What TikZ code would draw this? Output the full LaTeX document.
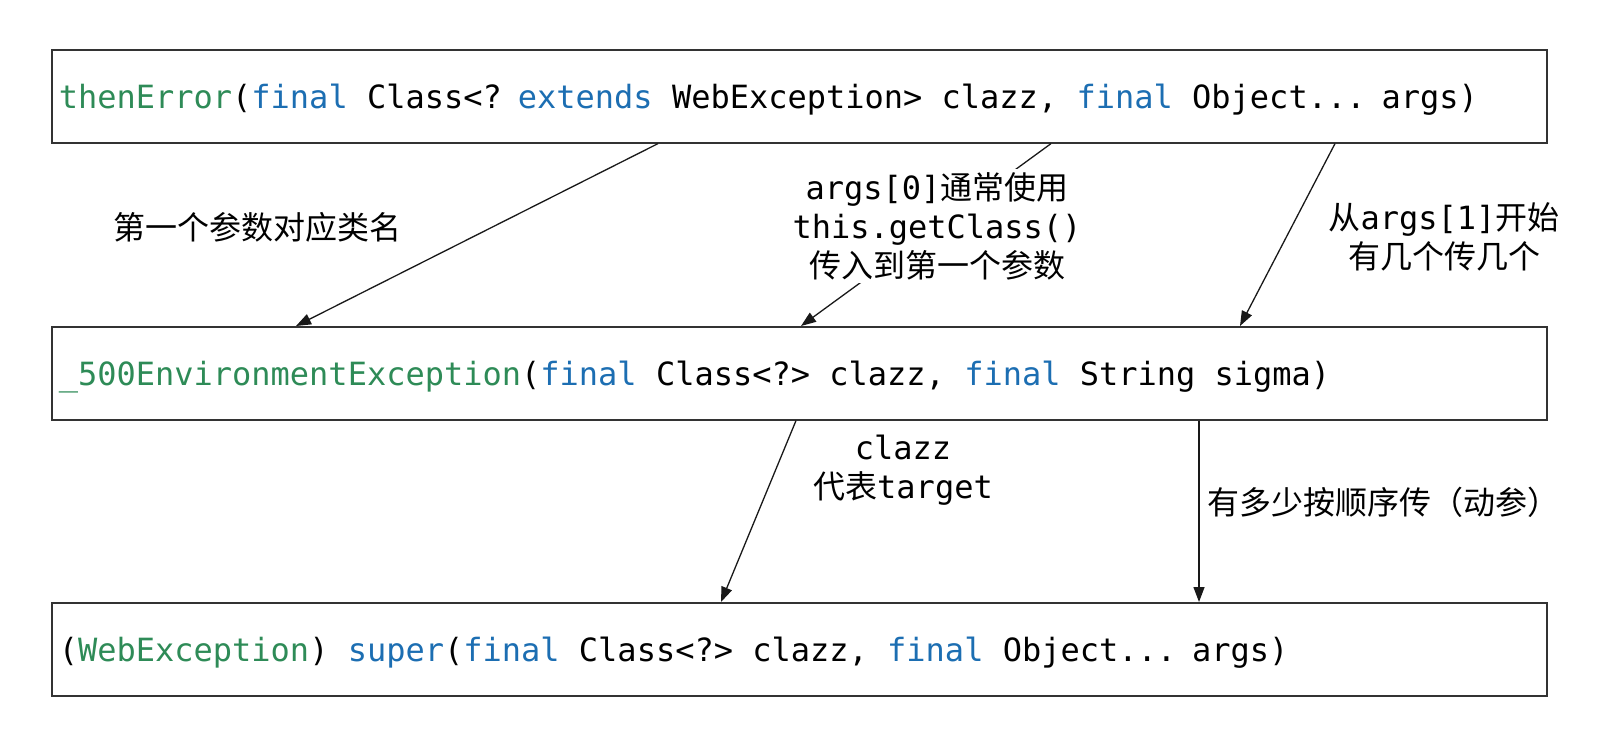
\documentclass[tikz,border=0pt]{standalone}
\usepackage{fontspec}
\setmonofont{DejaVu Sans Mono}
\newfontfamily\cjk{Noto Sans CJK SC}
\usetikzlibrary{arrows.meta}
\definecolor{fngreen}{RGB}{46,139,87}
\definecolor{kwblue}{RGB}{28,110,178}
\newcommand{\fn}[1]{\textcolor{fngreen}{#1}}
\newcommand{\kw}[1]{\textcolor{kwblue}{#1}}

\begin{document}
\begin{tikzpicture}[x=1pt, y=-1pt,
  every node/.style={font=\fontsize{32}{39}\selectfont\ttfamily},
  codebox/.style={draw=black!80, line width=1.6pt, anchor=north west, minimum width=1495pt, minimum height=93pt, inner xsep=7pt, text width=1481pt, text height=28pt, text depth=4pt, align=left, execute at begin node={\spaceskip=19.26pt\relax}},
  note/.style={align=center, inner sep=3pt},
  arr/.style={draw=black!90, line width=1.3pt, -{Triangle[length=15pt,width=11pt]}}
]
\useasboundingbox (0,0) rectangle (1600,728);

% the three signatures
\node[codebox] (thenerror) at (51,49) {\fn{thenError}(\kw{final} Class<? \kw{extends} WebException> clazz, \kw{final} Object... args)};
\node[codebox] (envexc) at (51,326) {\fn{\_500EnvironmentException}(\kw{final} Class<?> clazz, \kw{final} String sigma)};
\node[codebox] (superctor) at (51,602) {(\fn{WebException}) \kw{super}(\kw{final} Class<?> clazz, \kw{final} Object... args)};

% connectors
\draw[arr] ([xshift=607pt]thenerror.south west) -- ([xshift=245pt]envexc.north west);
\draw[arr] ([xshift=1000pt]thenerror.south west) -- ([xshift=750pt]envexc.north west);
\draw[arr] ([xshift=1284pt]thenerror.south west) -- ([xshift=1189pt]envexc.north west);
\draw[arr] ([xshift=745pt]envexc.south west) -- ([xshift=670pt]superctor.north west);
\draw[arr] ([xshift=1148pt]envexc.south west) -- ([xshift=1148pt]superctor.north west);

% notes
\node[note] (lblclass) at (257,227) {\cjk 第一个参数对应类名};
\node[note, fill=white] (lblargs0) at (937,226) {args[0]{\cjk 通常使用}\\this.getClass()\\{\cjk 传入到第一个参数}};
\node[note] (lblargs1) at (1444,237) {{\cjk 从}args[1]{\cjk 开始}\\{\cjk 有几个传几个}};
\node[note] (lblclazz) at (903,470) {clazz\\{\cjk 代表}target};
\node[note] (lblorder) at (1383,502) {\cjk 有多少按顺序传（动参）};
\end{tikzpicture}
\end{document}
